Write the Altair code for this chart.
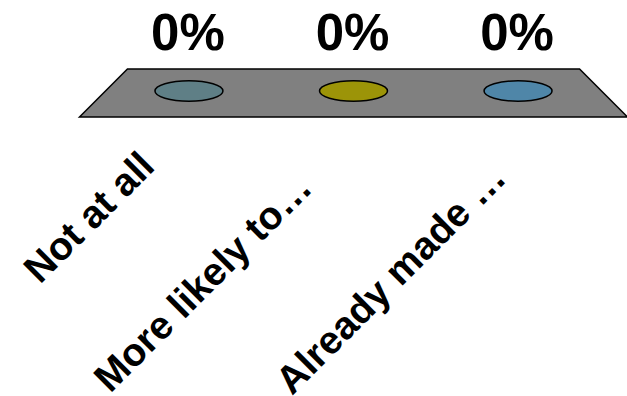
import altair as alt
import pandas as pd

categories = ["Not at all", "More likely to…", "Already made …"]
values = [0.0, 0.0, 0.0]
disc_colors = ["#5F7F86", "#9C9408", "#4F86A8"]

# label offsets (style): along-text dx, perpendicular dy
label_dx = [-77.6, -97.9, -70.0]
label_dy = [31.7, 42.0, 56.0]

df = pd.DataFrame({"category": categories, "value": values})

FONT = "Liberation Sans"

x_enc = alt.X("category:N", sort=categories, axis=None,
              scale=alt.Scale(type="point", padding=0.65))
y_enc = alt.Y("value:Q", axis=None, scale=alt.Scale(domain=[0, 1]))

base = alt.Chart(df)

plate_path = "M -1 0.0949 L -0.825 -0.0803 L 0.825 -0.0803 L 1 0.0949 Z"
plate = base.transform_filter(
    alt.datum.category == categories[1]
).mark_point(
    shape=plate_path, filled=True, fill="#808080", stroke="#000000",
    strokeWidth=1.5, opacity=1, size=300304
).encode(x=x_enc, y=y_enc)

ellipse_path = ("M -1 0 C -1 -0.166 -0.552 -0.3 0 -0.3 C 0.552 -0.3 1 -0.166 1 0 "
                "C 1 0.166 0.552 0.3 0 0.3 C -0.552 0.3 -1 0.166 -1 0 Z")
discs = base.mark_point(
    shape=ellipse_path, filled=True, stroke="#000000", strokeWidth=1.5,
    opacity=1, size=4624
).encode(
    x=x_enc, y=y_enc,
    color=alt.Color("category:N", sort=categories, legend=None,
                    scale=alt.Scale(domain=categories, range=disc_colors)),
)

pct = base.mark_text(
    font=FONT, fontSize=51, fontWeight="bold", color="#000000",
    align="center", baseline="alphabetic", dy=-41, dx=-1
).encode(x=x_enc, y=y_enc, text=alt.Text("value:Q", format=".0%"))

label_layers = []
for i, cat in enumerate(categories):
    label_layers.append(
        base.transform_filter(alt.datum.category == cat).mark_text(
            font=FONT, fontSize=39, fontWeight="bold", color="#000000",
            align="right", baseline="alphabetic", angle=315,
            dx=label_dx[i], dy=label_dy[i]
        ).encode(x=x_enc, y=y_enc, text="category:N")
    )

chart = alt.layer(plate, discs, pct, *label_layers).properties(
    width=543, height=91,
    padding={"left": 82, "top": 0, "right": 2, "bottom": 305},
    autosize=alt.AutoSizeParams(type="none"),
    background="#ffffff",
).configure_view(stroke=None)

chart.save("out.html", embed_options={"renderer": "svg", "actions": False})
